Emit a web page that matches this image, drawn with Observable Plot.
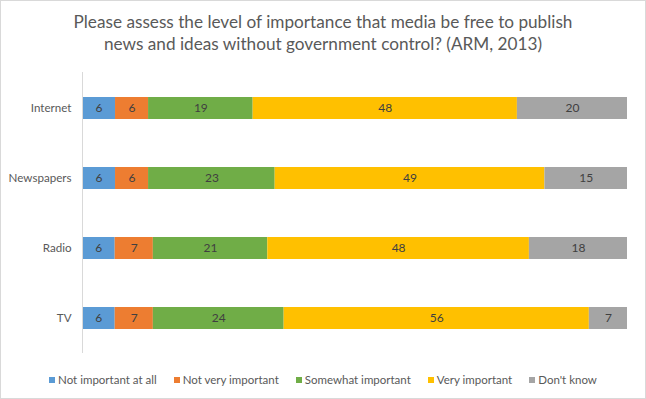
<!DOCTYPE html>
<html>
<head>
<meta charset="utf-8">
<script src="https://cdn.jsdelivr.net/npm/d3@7"></script>
<script src="https://cdn.jsdelivr.net/npm/@observablehq/plot@0.6"></script>
<style>
  html, body { margin: 0; padding: 0; background: #fff; }
  #wrap { position: relative; width: 646px; height: 399px; overflow: hidden; font-family: Lato, "Open Sans", sans-serif; }
  #frame { position: absolute; left: 0; top: 0; width: 644px; height: 397px; border: 1px solid #d9d9d9; pointer-events: none; }
  #title { position: absolute; left: 0; top: 11px; width: 646px; text-align: center; color: #595959; font-size: 17.2px; line-height: 22px; }
  #chart { position: absolute; left: 0; top: 0; }
  #legend { position: absolute; left: 0; top: 372px; width: 646px; display: flex; justify-content: center; gap: 17px; color: #595959; font-size: 11.5px; line-height: 16px; }
  #legend span.sw { display: inline-block; width: 6px; height: 6px; margin-right: 3px; vertical-align: 1px; }
</style>
</head>
<body>
<div id="wrap">
  <div id="chart"></div>
  <div id="title">Please assess the level of importance that media be free to publish<br>news and ideas without government control? (ARM, 2013)</div>
  <div id="legend"></div>
  <div id="frame"></div>
</div>
<script>
const categories = ["Internet", "Newspapers", "Radio", "TV"];
const series = ["Not important at all", "Not very important", "Somewhat important", "Very important", "Don't know"];
const colors = ["#5B9BD5", "#ED7D31", "#70AD47", "#FFC000", "#A5A5A5"];
const notImportantAtAll = [6, 6, 6, 6];
const notVeryImportant = [6, 6, 7, 7];
const somewhatImportant = [19, 23, 21, 24];
const veryImportant = [48, 49, 48, 56];
const dontKnow = [20, 15, 18, 7];

const seriesValues = [notImportantAtAll, notVeryImportant, somewhatImportant, veryImportant, dontKnow];
const data = [];
categories.forEach((c, i) => {
  series.forEach((s, j) => {
    data.push({medium: c, response: s, value: seriesValues[j][i]});
  });
});

const stackOpts = {x: "value", y: "medium", z: "response", offset: "normalize", order: series};

const chart = Plot.plot({
  width: 646,
  height: 399,
  marginTop: 72,
  marginBottom: 46,
  marginLeft: 82,
  marginRight: 19,
  style: {fontFamily: "Lato, 'Open Sans', sans-serif", fontSize: "11.6px", color: "#595959", background: "transparent"},
  x: {axis: null},
  y: {domain: categories, paddingInner: 0.686, paddingOuter: 0.343, label: null, tickSize: 0, tickPadding: 11},
  color: {domain: series, range: colors},
  marks: [
    Plot.barX(data, Plot.stackX({...stackOpts, fill: "response"})),
    Plot.text(data, Plot.stackX({...stackOpts, text: "value", fill: "#404040", fontSize: 12})),
    Plot.ruleX([0], {stroke: "#d9d9d9", strokeWidth: 1})
  ]
});
document.getElementById("chart").appendChild(chart);

const legend = document.getElementById("legend");
series.forEach((s, i) => {
  const item = document.createElement("div");
  item.innerHTML = `<span class="sw" style="background:${colors[i]}"></span>${s}`;
  legend.appendChild(item);
});
</script>
</body>
</html>
